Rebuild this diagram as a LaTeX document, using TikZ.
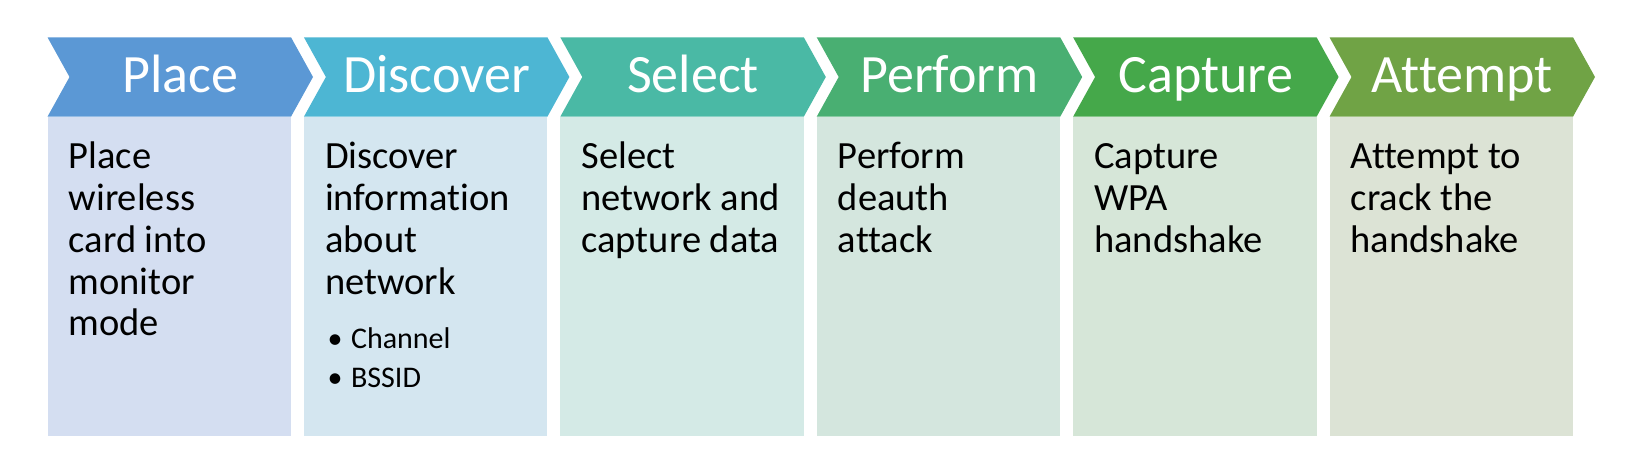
\documentclass[tikz,border=0pt]{standalone}
\usepackage{fontspec}
\setmainfont{Carlito}[Ligatures=NoCommon]
\definecolor{h1}{HTML}{5B98D5}
\definecolor{h2}{HTML}{4DB6D3}
\definecolor{h3}{HTML}{4AB9A5}
\definecolor{h4}{HTML}{49AF72}
\definecolor{h5}{HTML}{45A84A}
\definecolor{h6}{HTML}{70A345}
\definecolor{g1}{HTML}{D4DEF1}
\definecolor{g2}{HTML}{D4E6F0}
\definecolor{g3}{HTML}{D4EAE6}
\definecolor{g4}{HTML}{D4E6DE}
\definecolor{g5}{HTML}{D6E6D8}
\definecolor{g6}{HTML}{DCE3D5}
\newcommand\linestack[1]{\vtop{\baselineskip=41.7pt #1}}
\newcommand\bulletline[1]{\hbox{\makebox[26pt][l]{\hskip2.5pt\textbullet}#1}}
\begin{document}
\begin{tikzpicture}[x=1pt,y=-1pt,
  headtxt/.style={text=white,font=\fontsize{54}{60}\selectfont,inner sep=0pt,anchor=base},
  bodytxt/.style={text=black,font=\fontsize{38.5}{41.7}\selectfont,inner sep=0pt,anchor=base west}]
\useasboundingbox (0,0) rectangle (1641,473);
\foreach \i/\hc/\bc in {0/h1/g1,1/h2/g2,2/h3/g3,3/h4/g4,4/h5/g5,5/h6/g6}{
  \pgfmathsetmacro\L{47.5+\i*256.4}
  \pgfmathsetmacro\R{\L+243.5}
  \fill[\bc] (\L,117) rectangle (\R,436);
  \fill[\hc] (\L,37.3) -- (\R,37.3) -- (\R+22,77) -- (\R,116.7) -- (\L,116.7) -- (\L+22,77) -- cycle;
}
\node[headtxt] (t1) at (180.25,92.3) {Place};
\node[headtxt] (t2) at (436.65,92.3) {Discover};
\node[headtxt] (t3) at (693.05,92.3) {Select};
\node[headtxt] (t4) at (949.45,92.3) {Perform};
\node[headtxt] (t5) at (1205.85,92.3) {Capture};
\node[headtxt] (t6) at (1462.25,92.3) {Attempt};
\node[bodytxt] (b1) at (68.5,169) {\linestack{\hbox{Place}\hbox{wireless}\hbox{card into}\hbox{monitor}\hbox{mode}}};
\node[bodytxt] (b2) at (324.9,169) {\linestack{\hbox{Discover}\hbox{information}\hbox{about}\hbox{network}%
  \fontsize{30}{39}\selectfont\baselineskip=39pt\vskip15pt\bulletline{Channel}\bulletline{BSSID}}};
\node[bodytxt] (b3) at (581.3,169) {\linestack{\hbox{Select}\hbox{network and}\hbox{capture data}}};
\node[bodytxt] (b4) at (837.7,169) {\linestack{\hbox{Perform}\hbox{deauth}\hbox{attack}}};
\node[bodytxt] (b5) at (1094.1,169) {\linestack{\hbox{Capture}\hbox{WPA}\hbox{handshake}}};
\node[bodytxt] (b6) at (1350.5,169) {\linestack{\hbox{Attempt to}\hbox{crack the}\hbox{handshake}}};
\end{tikzpicture}
\end{document}
